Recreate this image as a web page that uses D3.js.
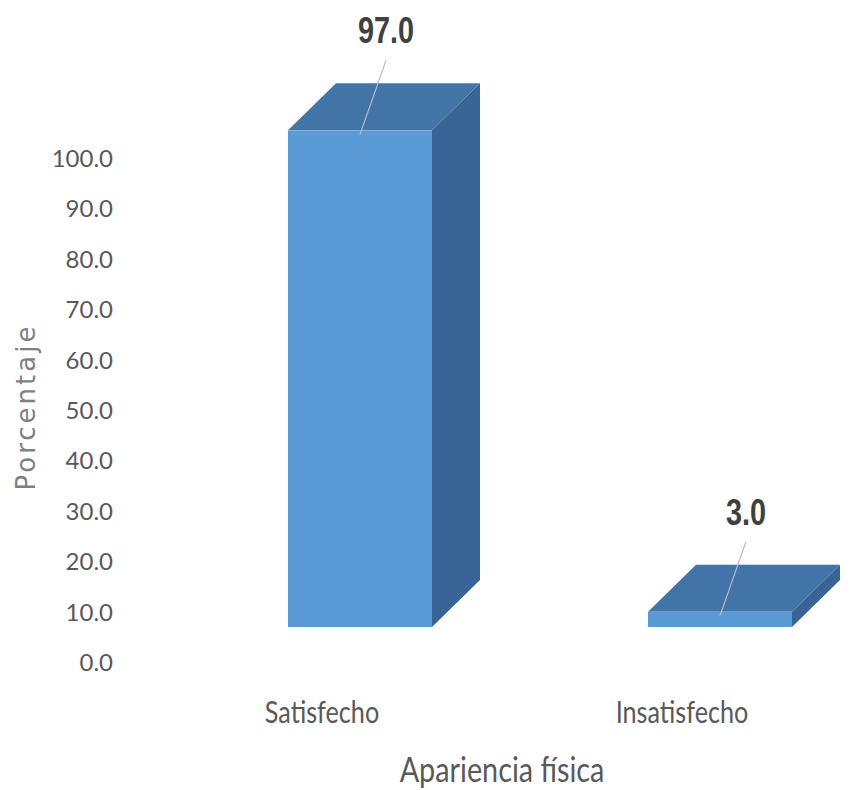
<!DOCTYPE html>
<html>
<head>
<meta charset="utf-8">
<script src="https://cdn.jsdelivr.net/npm/d3@7"></script>
<style>
  html, body { margin: 0; padding: 0; background: #ffffff; }
  svg { display: block; }
</style>
</head>
<body>
<svg id="chart" width="855" height="790"></svg>
<script>
// Chart data
const categories = ["Satisfecho", "Insatisfecho"];
const values = [97.0, 3.0];
const yTicks = [0, 10, 20, 30, 40, 50, 60, 70, 80, 90, 100];
const yTitle = "Porcentaje";
const xTitle = "Apariencia física";

const svg = d3.select("#chart");

// 3D depth offset of the bars
const depthX = 48, depthY = 47;

// Scales
const x = d3.scaleBand().domain(categories).range([180, 900]).paddingInner(0.6).paddingOuter(0.3);
const yAxisScale = d3.scaleLinear().domain([0, 100]).range([662, 158]);
const yBar = d3.scaleLinear().domain([0, 100]).range([627, 115]);

const colFront = "#5b9bd5", colTop = "#4374a8", colSide = "#386595";

// Y axis (labels only)
const yAxis = d3.axisLeft(yAxisScale).tickValues(yTicks).tickFormat(d3.format(".1f")).tickSize(0).tickPadding(0);
const gy = svg.append("g").attr("transform", "translate(113,0)").call(yAxis);
gy.select(".domain").remove();
gy.selectAll("text")
  .attr("fill", "#595959")
  .attr("font-family", "Lato, 'Open Sans', sans-serif")
  .attr("font-size", 24)
  .attr("dy", "0.35em");

// Y title
svg.append("text")
  .attr("transform", "translate(35,407) rotate(-90)")
  .attr("text-anchor", "middle")
  .attr("fill", "#7f7f7f")
  .attr("font-family", "'DejaVu Sans', sans-serif")
  .attr("font-size", 26)
  .attr("letter-spacing", 3)
  .text(yTitle);

// Bars
const bars = svg.append("g").selectAll("g.bar")
  .data(categories.map((c, i) => ({ c, v: values[i] })))
  .join("g").attr("class", "bar");

bars.each(function (d) {
  const g = d3.select(this);
  const x0 = x(d.c), x1 = x(d.c) + x.bandwidth();
  const yt = yBar(d.v), yb = yBar(0);
  // side face
  g.append("path")
    .attr("d", `M${x1},${yt} L${x1 + depthX},${yt - depthY} L${x1 + depthX},${yb - depthY} L${x1},${yb} Z`)
    .attr("fill", colSide);
  // top face
  g.append("path")
    .attr("d", `M${x0},${yt} L${x0 + depthX},${yt - depthY} L${x1 + depthX},${yt - depthY} L${x1},${yt} Z`)
    .attr("fill", colTop);
  // front face
  g.append("rect")
    .attr("x", x0).attr("y", yt)
    .attr("width", x.bandwidth()).attr("height", yb - yt)
    .attr("fill", colFront);

  // value label with leader line
  const cx = x0 + x.bandwidth() / 2;
  const lx = cx + depthX / 2 + 2;
  const baseY = yt - depthY - 40;
  g.append("line")
    .attr("x1", lx).attr("y1", baseY + 17)
    .attr("x2", cx).attr("y2", yt + 4)
    .attr("stroke", "#b4bcc8").attr("stroke-width", 1.2);
  g.append("text")
    .attr("transform", `translate(${lx},${baseY}) scale(0.8,1.05)`)
    .attr("text-anchor", "middle")
    .attr("fill", "#404040")
    .attr("font-family", "'Liberation Sans', Arial, sans-serif")
    .attr("font-weight", "bold")
    .attr("font-size", 36)
    .text(d3.format(".1f")(d.v));
});

// Category labels (slightly condensed type)
svg.append("g").selectAll("text")
  .data(categories)
  .join("text")
  .attr("transform", d => `translate(${x(d) + x.bandwidth() / 2 - 38},723) scale(0.9,1.1)`)
  .attr("text-anchor", "middle")
  .attr("fill", "#595959")
  .attr("font-family", "Lato, 'Open Sans', sans-serif")
  .attr("font-size", 28)
  .text(d => d);

// X title
svg.append("text")
  .attr("transform", "translate(502,782) scale(0.9,1.1)")
  .attr("text-anchor", "middle")
  .attr("fill", "#595959")
  .attr("font-family", "Lato, 'Open Sans', sans-serif")
  .attr("font-size", 32)
  .text(xTitle);
</script>
</body>
</html>
